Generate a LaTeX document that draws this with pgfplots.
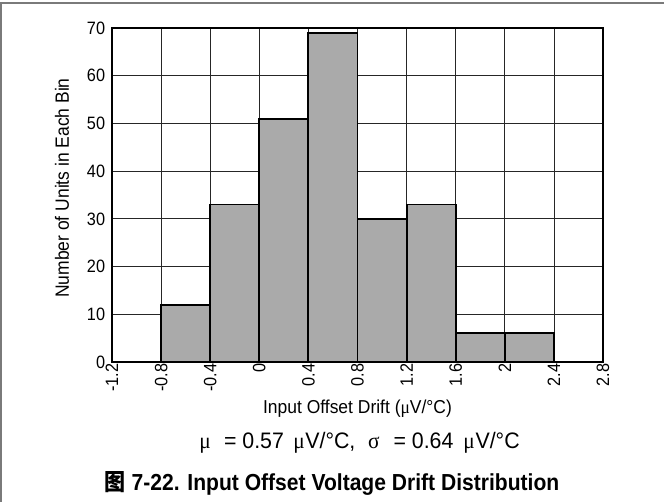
\documentclass[border=0pt]{standalone}
\usepackage{fontspec}
\setmainfont{Liberation Sans}
\newfontfamily\serifgr{Liberation Serif}
\newfontfamily\cjk{Noto Sans CJK SC}
\usepackage{graphicx}
\usepackage{pgfplots}
\pgfplotsset{compat=1.18}

\definecolor{barfill}{HTML}{AAAAAA}
\definecolor{framegray}{HTML}{7A7A7A}

\newcommand{\mug}{{\serifgr μ}}
\newcommand{\sigmag}{{\serifgr σ}}
% slightly tall lettering
\newcommand{\tall}[2][1.1]{\scalebox{1}[#1]{#2}}

\begin{document}
\begin{tikzpicture}
  % page extent
  \path[use as bounding box] (0pt,0pt) rectangle (498pt,376.5pt);
  \draw[framegray, line width=1.1pt] (0pt,374.25pt) -- (498pt,374.25pt);
  \draw[framegray, line width=1.1pt] (0.75pt,0pt) -- (0.75pt,374.25pt);

  \begin{axis}[
      scale only axis,
      anchor=south west,
      at={(84pt,105pt)},
      width=368.25pt, height=250.5pt,
      xmin=-1.2, xmax=2.8,
      ymin=0, ymax=70,
      xtick={-1.2,-0.8,-0.4,0,0.4,0.8,1.2,1.6,2,2.4,2.8},
      xticklabels={\tall{-1.2},\tall{-0.8},\tall{-0.4},\tall{0},\tall{0.4},
        \tall{0.8},\tall{1.2},\tall{1.6},\tall{2},\tall{2.4},\tall{2.8}},
      ytick={0,10,...,70},
      yticklabels={\tall{0},\tall{10},\tall{20},\tall{30},\tall{40},
        \tall{50},\tall{60},\tall{70}},
      major tick length=0pt,
      grid=major,
      major grid style={black!85, line width=0.55pt},
      axis line style={black, line width=1.9pt},
      tick label style={font=\fontsize{12.2}{14}\selectfont},
      xticklabel style={rotate=90, anchor=east, inner sep=1pt},
      yticklabel style={anchor=east, inner sep=1pt, xshift=-4pt},
      clip=false,
    ]
    % counts per 0.4 uV/C bin (left edges; last point closes the final bin)
    \addplot[ybar interval, fill=barfill, draw=black, line width=1.4pt]
      coordinates {
        (-0.8,12) (-0.4,33) (0,51) (0.4,69) (0.8,30)
        (1.2,33) (1.6,6) (2.0,6) (2.4,6)
      };
  \end{axis}

  \node[rotate=90, font=\fontsize{13.1}{15}\selectfont] at (46.5pt,235.5pt)
    {\tall{Number of Units in Each Bin}};
  \node[font=\fontsize{13.1}{15}\selectfont] at (268.1pt,69.75pt)
    {\tall[1.07]{Input Offset Drift (\mug V/°C)}};
  \node[font=\fontsize{16}{18}\selectfont] at (269.6pt,44.25pt)
    {\tall[1.05]{\mug\hspace{10pt}= 0.57\hspace{7pt}\mug\hspace{0.5pt}V/°C,\hspace{9.5pt}%
      \sigmag\hspace{10.5pt}= 0.64\hspace{7.5pt}\mug\hspace{0.5pt}V/°C}};
  \node[font=\fontsize{15.8}{18}\selectfont\bfseries] at (249pt,14.25pt)
    {\tall[1.1]{{\cjk\bfseries 图} 7-22. Input Offset Voltage Drift Distribution}};
\end{tikzpicture}
\end{document}
